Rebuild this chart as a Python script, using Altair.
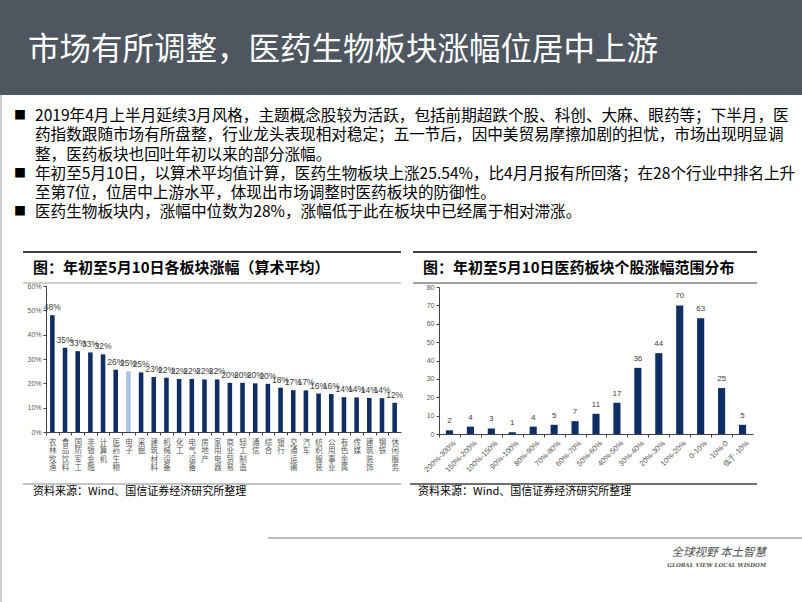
import altair as alt
import pandas as pd

W, H = 802, 602

# ---------------- text content ----------------
title_text = "市场有所调整，医药生物板块涨幅位居中上游"
bullet_1 = [
    "2019年4月上半月延续3月风格，主题概念股较为活跃，包括前期超跌个股、科创、大麻、眼药等；下半月，医",
    "药指数跟随市场有所盘整，行业龙头表现相对稳定；五一节后，因中美贸易摩擦加剧的担忧，市场出现明显调",
    "整，医药板块也回吐年初以来的部分涨幅。",
]
bullet_2 = [
    "年初至5月10日，以算术平均值计算，医药生物板块上涨25.54%，比4月月报有所回落；在28个行业中排名上升",
    "至第7位，位居中上游水平，体现出市场调整时医药板块的防御性。",
]
bullet_3 = ["医药生物板块内，涨幅中位数为28%，涨幅低于此在板块中已经属于相对滞涨。"]
left_title = "图：年初至5月10日各板块涨幅（算术平均）"
right_title = "图：年初至5月10日医药板块个股涨幅范围分布"
source_text = "资料来源：Wind、国信证券经济研究所整理"
logo_cn = "全球视野  本土智慧"
logo_en = "GLOBAL VIEW    LOCAL WISDOM"

# ---------------- data ----------------
sectors = ["农林牧渔", "食品饮料", "国防军工", "非银金融", "计算机", "医药生物", "电子",
           "采掘", "建筑材料", "机械设备", "化工", "电气设备", "房地产", "家用电器",
           "商业贸易", "轻工制造", "通信", "综合", "银行", "交通运输", "汽车",
           "纺织服装", "公用事业", "有色金属", "传媒", "建筑装饰", "钢铁", "休闲服务"]
sector_gain = [48.0, 34.6, 33.2, 32.7, 31.9, 25.6, 24.9, 24.5, 22.6, 22.3, 21.8, 21.8,
               21.6, 21.6, 20.2, 20.2, 20.0, 19.8, 18.2, 17.2, 17.1, 15.8, 15.6,
               14.3, 14.2, 14.0, 13.9, 12.0]
highlight_sector = "电子"

ranges = ["200%-300%", "150%-200%", "100%-150%", "90%-100%", "80%-90%", "70%-80%",
          "60%-70%", "50%-60%", "40%-50%", "30%-40%", "20%-30%", "10%-20%",
          "0-10%", "-10%-0", "低于-10%"]
stock_count = [2, 4, 3, 1, 4, 5, 7, 11, 17, 36, 44, 70, 63, 25, 5]

left_ticks = [0, 10, 20, 30, 40, 50, 60]
right_ticks = [0, 10, 20, 30, 40, 50, 60, 70, 80]

# ---------------- styles ----------------
CJK = "Noto Sans CJK SC"
LAT = "Liberation Sans"
NAVY = "#0f2f64"
LIGHT = "#a9c2e6"
HEADER = "#4e5760"
GREY = "#595959"

one = pd.DataFrame({"k": [0]})


def rule(x1, x2, y1, y2, color, width=1.0):
    return alt.Chart(one).mark_rule(color=color, strokeWidth=width).encode(
        x=alt.value(x1), x2=alt.value(x2), y=alt.value(y1), y2=alt.value(y2))


def text(x, y, t, size, color="#000000", font=CJK, weight="normal", align="left",
         lh=None, style="normal", baseline="middle"):
    kw = dict(font=font, fontSize=size, color=color, fontWeight=weight, align=align,
              baseline=baseline, fontStyle=style)
    if lh is not None:
        kw["lineHeight"] = lh
    return alt.Chart(one).mark_text(**kw).encode(
        x=alt.value(x), y=alt.value(y), text=alt.value(t))


layers = []
# header band
layers.append(alt.Chart(one).mark_rect(color=HEADER).encode(
    x=alt.value(0), x2=alt.value(W), y=alt.value(0), y2=alt.value(95)))
layers.append(text(28, 51, title_text, 31.5, color="#ffffff"))

# slide frame below the header
layers.append(rule(1, 1, 95, H, "#9a9a9a", 1))

# bullets
LH = 19.3
BF = 15.6
layers.append(text(14, 116, "■", 12))
layers.append(text(35, 116, bullet_1, BF, lh=LH))
layers.append(text(14, 174, "■", 12))
layers.append(text(35, 174, bullet_2, BF, lh=LH))
layers.append(text(14, 212, "■", 12))
layers.append(text(35, 212, bullet_3, BF))

# chart title bars
layers.append(rule(23, 401, 252, 252, "#404040", 2))
layers.append(rule(413, 757, 252, 252, "#404040", 2))
layers.append(text(33, 268, left_title, 15, weight="bold"))
layers.append(text(423, 268, right_title, 15, weight="bold"))
layers.append(rule(23, 401, 283, 283, "#bfbfbf", 1.5))
layers.append(rule(413, 757, 283, 283, "#808080", 1.5))

# bottom lines + source
layers.append(rule(23, 401, 484, 484, "#b0b0b0", 1.5))
layers.append(rule(410, 757, 484, 484, "#404040", 1.5))
layers.append(text(33, 492, source_text, 11))
layers.append(text(418, 492, source_text, 11))

# footer
layers.append(rule(268, W, 538, 538, "#a6a6a6", 1.5))
layers.append(text(766, 553, logo_cn, 11.5, color="#555555", align="right", style="italic"))
layers.append(text(766, 565, logo_en, 5.5, color="#555555", align="right", font="DejaVu Serif",
                   weight="bold", style="italic"))

# ---------------- left chart ----------------
ldf = pd.DataFrame({"cat": sectors, "v": sector_gain})
L_X0, L_X1 = 46, 401
L_Y0, L_Y1 = 432, 286
lstep = (L_X1 - L_X0) / len(sectors)

lx = alt.X("cat:N", sort=None, title=None,
           scale=alt.Scale(range=[L_X0, L_X1], paddingInner=0.64, paddingOuter=0.32),
           axis=alt.Axis(orient="bottom", offset=-(H - L_Y0), labelAngle=0,
                         labelExpr="split(datum.label, '')", labelFont=CJK,
                         labelFontSize=7.5, labelLineHeight=8.6, labelColor=GREY,
                         labelBaseline="top", labelAlign="center", labelPadding=3,
                         labelOverlap=False, labelBound=False, tickSize=3,
                         tickOffset=-lstep / 2, labelOffset=lstep / 2,
                         domainColor="#404040", tickColor="#404040"))
ly = alt.Y("v:Q", title=None,
           scale=alt.Scale(domain=[0, 60], range=[L_Y0, L_Y1], nice=False),
           axis=alt.Axis(orient="left", offset=-L_X0, values=left_ticks,
                         labelExpr="datum.value + '%'", labelFont=LAT, labelFontSize=7,
                         labelColor=GREY, tickSize=3, grid=False,
                         domainColor="#404040", tickColor="#404040"))
lbars = alt.Chart(ldf).mark_bar().encode(
    x=lx, y=ly,
    color=alt.condition(alt.datum.cat == highlight_sector, alt.value(LIGHT), alt.value(NAVY)))
llabels = alt.Chart(ldf).transform_calculate(lab="round(datum.v) + '%'").mark_text(
    font=LAT, fontSize=8.5, color="#404040", baseline="bottom", dy=-3).encode(
    x=lx, y=ly, text="lab:N")
left = alt.layer(lbars, llabels)

# ---------------- right chart ----------------
rdf = pd.DataFrame({"r": ranges, "n": stock_count})
R_X0, R_X1 = 439, 753
R_Y0, R_Y1 = 434, 287
rstep = (R_X1 - R_X0) / len(ranges)

rx = alt.X("r:N", sort=None, title=None,
           scale=alt.Scale(range=[R_X0, R_X1], paddingInner=0.66, paddingOuter=0.33),
           axis=alt.Axis(orient="bottom", offset=-(H - R_Y0), labelAngle=-45,
                         labelFont=LAT, labelFontSize=7.5, labelColor=GREY,
                         labelAlign="right", labelBaseline="top", labelPadding=2,
                         labelOverlap=False, labelBound=False, tickSize=3,
                         tickOffset=-rstep / 2, labelOffset=rstep / 2 + 2,
                         domainColor="#404040", tickColor="#404040"))
ry = alt.Y("n:Q", title=None,
           scale=alt.Scale(domain=[0, 80], range=[R_Y0, R_Y1], nice=False),
           axis=alt.Axis(orient="left", offset=-R_X0, values=right_ticks,
                         labelFont=LAT, labelFontSize=7, labelColor=GREY,
                         tickSize=3, grid=False,
                         domainColor="#404040", tickColor="#404040"))
rbars = alt.Chart(rdf).mark_bar(color=NAVY).encode(x=rx, y=ry)
rlabels = alt.Chart(rdf).mark_text(font=LAT, fontSize=8, color="#404040",
                                   baseline="bottom", dy=-5).encode(
    x=rx, y=ry, text="n:Q")
right = alt.layer(rbars, rlabels)

chart = alt.layer(*layers, left, right).resolve_scale(
    x="independent", y="independent"
).properties(
    width=W, height=H, autosize=alt.AutoSizeParams(type="none"), padding=0,
    background="#ffffff"
).configure_view(stroke=None)

chart.save("out.html", embed_options={"renderer": "svg", "actions": False})
